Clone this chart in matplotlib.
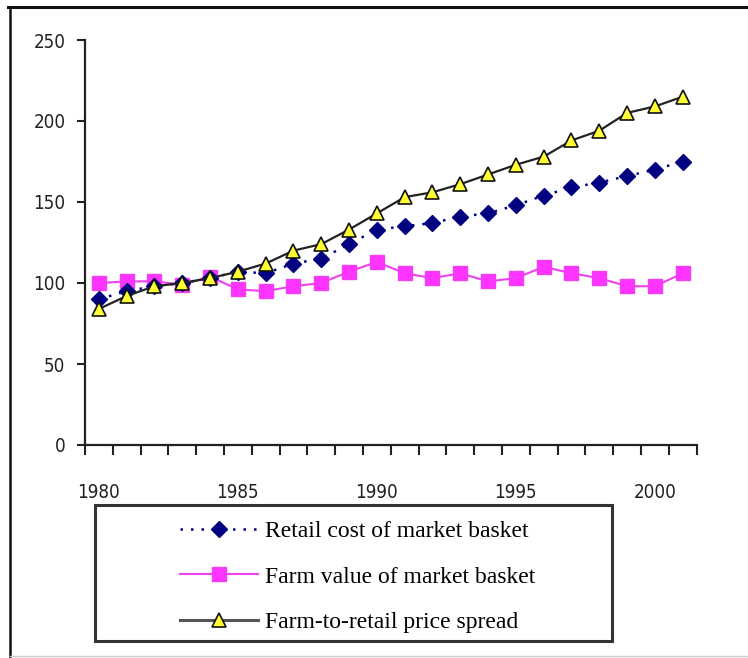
import matplotlib
matplotlib.use("Agg")
import matplotlib.pyplot as plt
from matplotlib.lines import Line2D
from matplotlib.patches import Rectangle
import numpy as np

years = list(range(1980, 2002))
retail_cost = [90, 95, 98, 100, 103, 107, 106, 112, 115, 124, 133, 135, 137, 141,
               143, 148, 154, 159, 162, 166, 170, 175]
farm_value = [100, 101, 101, 99, 104, 96, 95, 98, 100, 107, 113, 106, 103, 106,
              101, 103, 110, 106, 103, 98, 98, 106]
price_spread = [84, 92, 98, 100, 103, 107, 112, 120, 124, 133, 143, 153, 156, 161,
                167, 173, 178, 188, 194, 205, 209, 215]
labels = ["Retail cost of market basket", "Farm value of market basket",
          "Farm-to-retail price spread"]
y_ticks = [0, 50, 100, 150, 200, 250]
x_label_years = [1980, 1985, 1990, 1995, 2000]

W, H = 748, 658
fig = plt.figure(figsize=(W / 100, H / 100), dpi=100)
fig.patch.set_facecolor("white")

tick_font = dict(family=["DejaVu Sans"], stretch="condensed", size=13.5,
                 color="#1a1a1a")
legend_font = ["Liberation Serif", "DejaVu Serif"]

ax = fig.add_axes([85 / W, 1 - 445 / H, (696.6 - 85) / W, 405 / H])

ax.plot(years, retail_cost, color="#000080", linestyle=(0, (1, 3.2)), lw=1.8,
        marker="D", markersize=8.5, markerfacecolor="#000080",
        markeredgecolor="#000080", zorder=3)
ax.plot(years, farm_value, color="#f040f0", linestyle="-", lw=1.5,
        marker="s", markersize=10.5, markerfacecolor="#ff33ff",
        markeredgecolor="#f040f0", zorder=2)
ax.plot(years, price_spread, color="#222222", linestyle="-", lw=1.6,
        marker="^", markersize=10.5, markerfacecolor="#ffff33",
        markeredgecolor="#111111", markeredgewidth=1.2, zorder=4)

ax.set_xlim(1979.5, 2001.5)
ax.set_ylim(0, 250)
ax.set_yticks(y_ticks)
ax.set_yticklabels([str(v) for v in y_ticks], fontdict=tick_font)
ax.set_xticks(x_label_years)
ax.set_xticklabels([str(v) for v in x_label_years], fontdict=tick_font)
ax.set_xticks(np.arange(1979.5, 2002, 1.0), minor=True)
ax.tick_params(axis="x", which="major", length=0, pad=27, colors="#222222")
ax.tick_params(axis="x", which="minor", length=7, width=1.5, direction="out",
               color="#222222")
ax.tick_params(axis="y", which="major", length=6, width=1.5, pad=8,
               colors="#222222")

for side in ("top", "right"):
    ax.spines[side].set_visible(False)
for side in ("left", "bottom"):
    ax.spines[side].set_linewidth(1.6)
    ax.spines[side].set_color("#222222")

# legend frame
lx0, lx1, ly0, ly1 = 95, 612, 505, 641
fig.add_artist(Rectangle((lx0 / W, 1 - ly1 / H), (lx1 - lx0) / W, (ly1 - ly0) / H,
                         transform=fig.transFigure, facecolor="white",
                         edgecolor="#333333", lw=2.2, zorder=1))

handles = [
    Line2D([], [], color="#000080", linestyle=(0, (1, 3.2)), lw=1.8, marker="D",
           markersize=8.5, markerfacecolor="#000080", markeredgecolor="#000080"),
    Line2D([], [], color="#f040f0", linestyle="-", lw=1.5, marker="s",
           markersize=10.5, markerfacecolor="#ff33ff", markeredgecolor="#f040f0"),
    Line2D([], [], color="#555555", linestyle="-", lw=2.2, marker="^",
           markersize=10.5, markerfacecolor="#ffff33", markeredgecolor="#111111",
           markeredgewidth=1.2),
]
leg = fig.legend(handles, labels, loc="upper left",
                 bbox_to_anchor=(171 / W, 1 - 511 / H), borderaxespad=0,
                 frameon=False, handlelength=3.3, handletextpad=0.3,
                 labelspacing=1.02, prop=dict(family=legend_font, size=17))
leg.set_zorder(2)

# outer border
fig.add_artist(Line2D([8 / W, 1.0], [1 - 7 / H, 1 - 7 / H],
                      transform=fig.transFigure, color="#111111", lw=2.2))
fig.add_artist(Line2D([10 / W, 10 / W], [1 - 7 / H, 0.0],
                      transform=fig.transFigure, color="#111111", lw=1.8))
fig.add_artist(Line2D([10 / W, 1.0], [1 - 656 / H, 1 - 656 / H],
                      transform=fig.transFigure, color="#cccccc", lw=1.0))

fig.savefig("out.png", dpi=100, facecolor="white")
